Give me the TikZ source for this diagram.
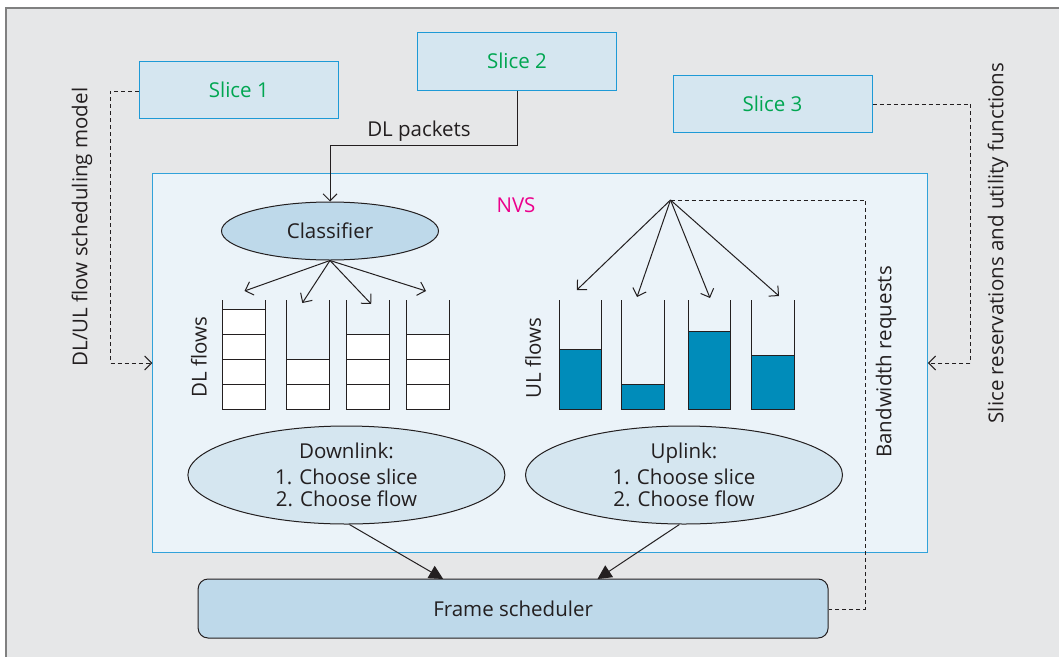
\documentclass[tikz,border=0pt]{standalone}
\usepackage{fontspec}
\setmainfont{Open Sans}
\usetikzlibrary{arrows.meta,shapes.geometric}
\definecolor{bgc}{HTML}{E6E7E8}
\definecolor{framec}{HTML}{808080}
\definecolor{slicefill}{HTML}{D5E6F0}
\definecolor{sliceline}{HTML}{1E9AD6}
\definecolor{slicetext}{HTML}{00A651}
\definecolor{nvsfill}{HTML}{EBF3F9}
\definecolor{nvsline}{HTML}{31A2DA}
\definecolor{ellfill}{HTML}{BED9EA}
\definecolor{ellfill2}{HTML}{D5E6F0}
\definecolor{ulfill}{HTML}{008CBA}
\definecolor{linec}{HTML}{231F20}
\definecolor{magentac}{HTML}{EC008C}
\tikzset{
  x=1pt,y=-1pt,
  every node/.style={font=\fontsize{20.5}{22}\selectfont, text=linec},
  slicebox/.style={draw=sliceline, fill=slicefill, line width=1pt, minimum width=199pt, minimum height=57pt, inner sep=0pt, text=slicetext},
  conn/.style={draw=linec, line width=1pt},
  openarrow/.style={conn, -{Straight Barb[length=7pt,width=14pt,line width=1pt]}},
  dasharrow/.style={conn, dashed, dash pattern=on 4pt off 3pt, -{Straight Barb[length=7pt,width=14pt,line width=1pt]}},
  dashline/.style={conn, dashed, dash pattern=on 4pt off 3pt},
  fillarrow/.style={conn, -{Triangle[length=14pt,width=14pt]}},
  cell/.style={draw=linec, fill=white, line width=1pt},
  ulcell/.style={draw=linec, fill=ulfill, line width=1pt},
  qwall/.style={draw=linec, line width=1pt},
  bigell/.style={ellipse, draw=linec, fill=ellfill2, line width=1pt, minimum width=317pt, minimum height=98pt, inner sep=0pt, align=center},
  rotlabel/.style={rotate=90, inner sep=0pt}
}
\begin{document}
\begin{tikzpicture}
\useasboundingbox (0,0) rectangle (1059,656);
\clip (0,0) rectangle (1059,656);
\fill[white] (0,0) rectangle (1059,656);
\draw[framec, fill=bgc, line width=1.5pt] (6.2,8) rectangle (1080,680);

% Slices
\node[slicebox] (s1) at (238.8,89.5) {Slice 1};
\node[slicebox, minimum height=58pt] (s2) at (517,61) {Slice 2};
\node[slicebox] (s3) at (772.5,103.5) {Slice 3};

% NVS box
\node[draw=nvsline, fill=nvsfill, line width=1pt, minimum width=774.5pt, minimum height=379pt, inner sep=0pt] (nvs) at (540.15,362.5) {};
\node[text=magentac] (nvslabel) at (516,205) {NVS};

% Classifier
\node[ellipse, draw=linec, fill=ellfill, line width=1pt, minimum width=217pt, minimum height=58pt, inner sep=0pt] (cls) at (330,231) {Classifier};

% DL packets
\coordinate (dlbend1) at (517.6,145);
\coordinate (dlbend2) at (330,145);
\draw[openarrow] (s2.south -| dlbend1) -- (dlbend1) -- (dlbend2) -- (cls.north);
\node[anchor=base] (dlp) at (419,136) {DL packets};

% DL queues
\foreach \x/\n in {222.7/4, 286/2, 346/3, 406.7/3} {
  \foreach \k in {1,...,\n} {
    \draw[cell] (\x,{409-25*\k}) rectangle ++(43,25);
  }
  \draw[qwall] (\x,300) -- (\x,409) (\x+43,300) -- (\x+43,409);
}
\coordinate (dq1) at (244.5,291);
\coordinate (dq2) at (302.3,303);
\coordinate (dq3) at (371.2,304);
\coordinate (dq4) at (426,291);
\foreach \i in {1,...,4} \draw[openarrow] (cls.south) -- (dq\i);

% UL queues
\foreach \x/\t in {559/349, 621.7/384.7, 688.3/331.7, 751.7/355.3} {
  \draw[ulcell] (\x,\t) rectangle (\x+42.6,409);
  \draw[qwall] (\x,300) -- (\x,409) (\x+42.6,300) -- (\x+42.6,409);
}
\coordinate (ulsrc) at (670.5,200);
\coordinate (uq1) at (576.8,290);
\coordinate (uq2) at (637,297);
\coordinate (uq3) at (710,298);
\coordinate (uq4) at (779,296);
\foreach \i in {1,...,4} \draw[openarrow] (ulsrc) -- (uq\i);

% Flow labels
\node[rotlabel] (dlf) at (199,357) {DL flows};
\node[rotlabel] (ulf) at (533,358) {UL flows};

% Downlink / uplink ellipses
\node[bigell] (dl) at (346.4,475) {Downlink:\\[4pt]1. Choose slice\\2. Choose flow};
\node[bigell] (ul) at (684,475) {Uplink:\\[4pt]1. Choose slice\\2. Choose flow};

% Frame scheduler
\node[draw=linec, fill=ellfill, line width=1pt, rounded corners=10pt, minimum width=630pt, minimum height=59pt, inner sep=0pt] (fs) at (513.1,608.5) {Frame scheduler};
\coordinate (fsdl) at (443.2,579);
\coordinate (fsul) at (597.5,579);
\draw[fillarrow] (dl.south) ++(3,0) -- (fsdl);
\draw[fillarrow] (ul.south) ++(-4.6,0) -- (fsul);

% Bandwidth requests
\coordinate (bw1) at (865.4,200);
\coordinate (bw2) at (865.4,609);
\draw[dashline] (ulsrc) -- (bw1) -- (bw2) -- (fs.east |- bw2);
\node[rotlabel] (bwl) at (886,362) {Bandwidth requests};

% Slice 3 reservations
\coordinate (sr1) at (970.4,104);
\coordinate (sr2) at (970.4,363);
\draw[dasharrow] (s3.east |- sr1) -- (sr1) -- (sr2) -- (nvs.east |- sr2);
\node[rotlabel] (srl) at (998,243) {Slice reservations and utility functions};

% DL/UL flow scheduling model
\coordinate (fm1) at (110.2,91);
\coordinate (fm2) at (110.2,363);
\draw[dasharrow] (s1.west |- fm1) -- (fm1) -- (fm2) -- (nvs.west |- fm2);
\node[rotlabel] (fml) at (82,227) {DL/UL flow scheduling model};
\end{tikzpicture}
\end{document}
